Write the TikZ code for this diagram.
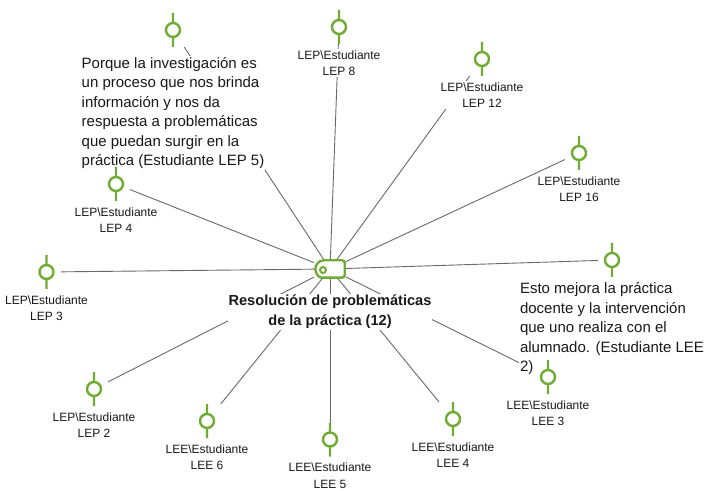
\documentclass[tikz,border=0pt]{standalone}
\usepackage{fontspec}
\setmainfont{Liberation Sans}
\usetikzlibrary{positioning,backgrounds}

\definecolor{codegreen}{RGB}{112,172,52}
\definecolor{linkgray}{RGB}{105,105,105}
\definecolor{textdark}{RGB}{25,25,25}

\begin{document}
\begin{tikzpicture}[
        x=1pt, y=1pt,
        codeicon/.style={rectangle, fill=white, minimum width=28pt, minimum height=34pt, inner sep=0pt,
            path picture={
                \draw[codegreen, line width=2.4pt]
                    (path picture bounding box.north) -- ++(0,-10)
                    (path picture bounding box.south) -- ++(0,10)
                    (path picture bounding box.center) circle[radius=7pt];}},
        hubtag/.style={rectangle, fill=white, minimum width=32pt, minimum height=20pt, inner sep=0pt,
            path picture={
                \draw[codegreen, line width=2.4pt]
                    ([shift={(-6,-8.7)}]path picture bounding box.center)
                    arc[start angle=270, end angle=90, radius=8.7]
                    [rounded corners=2.5pt] -- ++(20.7,0) -- ++(0,-17.4) -- cycle;
                \draw[codegreen, line width=2pt]
                    ([shift={(-7,-1)}]path picture bounding box.center) circle[radius=3];}},
        codelabel/.style={fill=white, inner sep=1pt, align=center, text=textdark,
            font=\fontsize{12}{16.5}\selectfont},
        quotebox/.style={fill=white, inner sep=1pt, align=left, text=textdark,
            font=\fontsize{15}{19.4}\selectfont},
        hubtitle/.style={fill=white, inner sep=1pt, align=center, text=textdark,
            font=\bfseries\fontsize{14.6}{20}\selectfont},
        link/.style={draw=linkgray, line width=0.9pt}
    ]
    \useasboundingbox (0,0) rectangle (706,490);

    % central code
    \node[hubtag] (hub) at (330,221) {};
    \node[hubtitle, below=14.5pt of hub] (title) {Resolución de problemáticas\\de la práctica (12)};

    % quotations
    \node[codeicon] (q1i) at (173,460) {};
    \node[quotebox, below=9pt of q1i] (q1) {Porque la investigación es\\un proceso que nos brinda\\información y nos da\\respuesta a problemáticas\\que puedan surgir en la\\práctica (Estudiante LEP 5)};
    \node[codeicon] (q2i) at (612,230) {};
    \node[quotebox, below=4.5pt of q2i] (q2) {Esto mejora la práctica\\docente y la intervención\\que uno realiza con el\\alumnado. (Estudiante LEE\\2)};

    % LEP students
    \node[codeicon] (lep8i) at (339,463) {};
    \node[codelabel, below=5pt of lep8i] (lep8) {LEP\textbackslash Estudiante\\LEP 8};
    \node[codeicon] (lep12i) at (482,431) {};
    \node[codelabel, below=5pt of lep12i] (lep12) {LEP\textbackslash Estudiante\\LEP 12};
    \node[codeicon] (lep16i) at (579,337) {};
    \node[codelabel, below=5pt of lep16i] (lep16) {LEP\textbackslash Estudiante\\LEP 16};
    \node[codeicon] (lep4i) at (116,306) {};
    \node[codelabel, below=5pt of lep4i] (lep4) {LEP\textbackslash Estudiante\\LEP 4};
    \node[codeicon] (lep3i) at (46.5,218) {};
    \node[codelabel, below=5pt of lep3i] (lep3) {LEP\textbackslash Estudiante\\LEP 3};
    \node[codeicon] (lep2i) at (94,101) {};
    \node[codelabel, below=5pt of lep2i] (lep2) {LEP\textbackslash Estudiante\\LEP 2};

    % LEE students
    \node[codeicon] (lee3i) at (548,113) {};
    \node[codelabel, below=5pt of lee3i] (lee3) {LEE\textbackslash Estudiante\\LEE 3};
    \node[codeicon] (lee4i) at (453,71) {};
    \node[codelabel, below=5pt of lee4i] (lee4) {LEE\textbackslash Estudiante\\LEE 4};
    \node[codeicon] (lee5i) at (330,50.5) {};
    \node[codelabel, below=5pt of lee5i] (lee5) {LEE\textbackslash Estudiante\\LEE 5};
    \node[codeicon] (lee6i) at (207,69) {};
    \node[codelabel, below=5pt of lee6i] (lee6) {LEE\textbackslash Estudiante\\LEE 6};

    % links, behind the nodes
    \begin{scope}[on background layer]
        \fill[white] (0,0) rectangle (706,490);
        \draw[link] (hub.center) -- (q1i.center);
        \draw[link] (hub.center) -- (lep8i.center);
        \draw[link] (hub.center) -- (lep12i.center);
        \draw[link] (hub.center) -- (lep16i.center);
        \draw[link] (hub.center) -- (q2i.center);
        \draw[link] (hub.center) -- (lep4i.center);
        \draw[link] (hub.center) -- (lep3i.center);
        \draw[link] (hub.center) -- (lep2i.center);
        \draw[link] (hub.center) -- (lee6i.center);
        \draw[link] (hub.center) -- (lee5i.center);
        \draw[link] (hub.center) -- (lee4i.center);
        \draw[link] (hub.center) -- (lee3i.center);
    \end{scope}
\end{tikzpicture}
\end{document}
